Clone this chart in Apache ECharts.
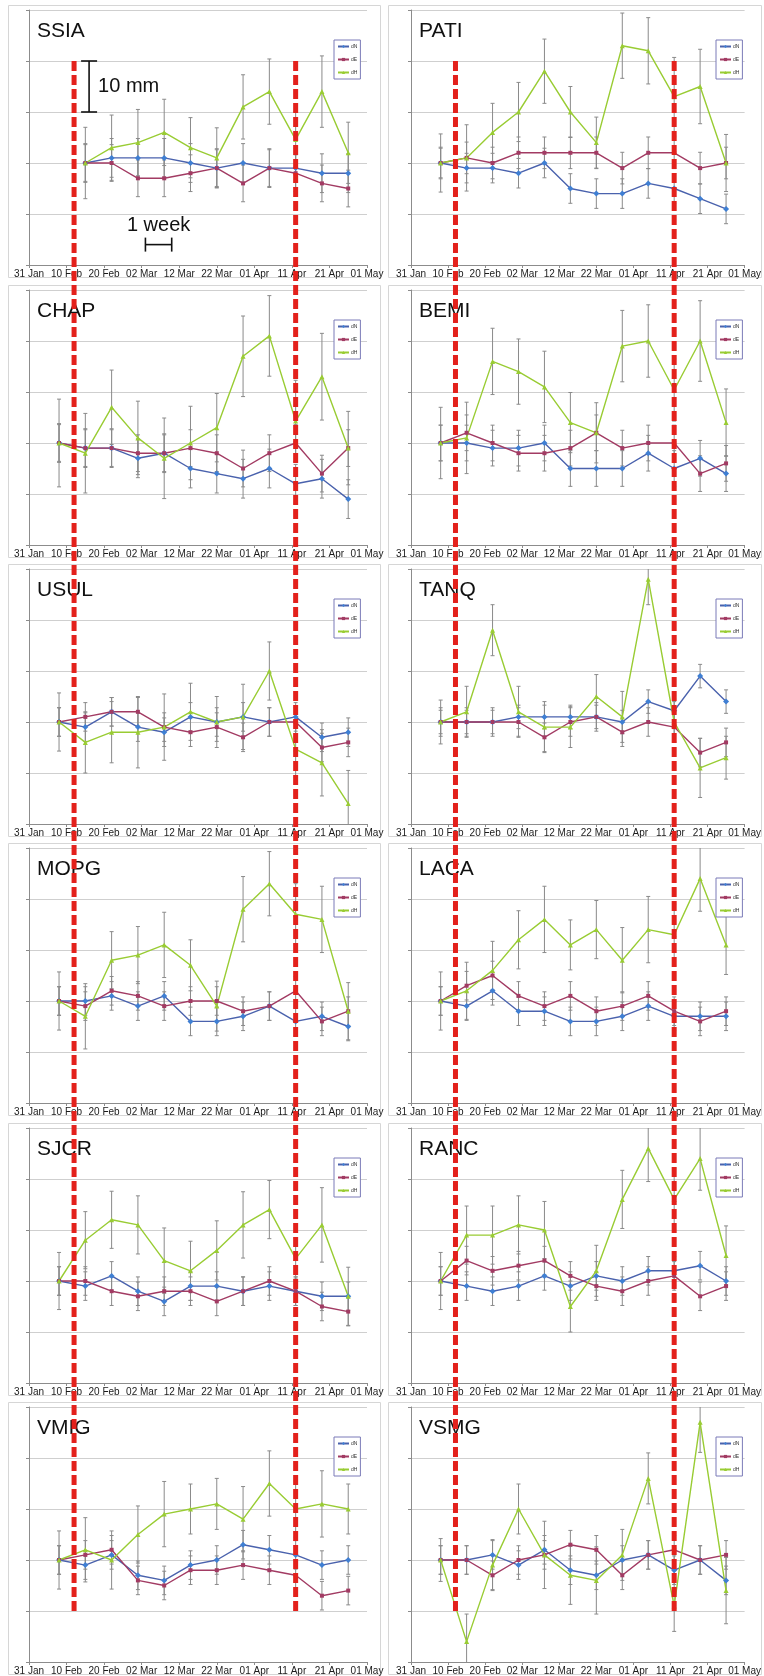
<!DOCTYPE html>
<html>
<head>
<meta charset="utf-8">
<title>GPS displacement time series</title>
<script src="https://cdn.jsdelivr.net/npm/echarts@6/dist/echarts.min.js"></script>
<style>
  html, body { margin: 0; padding: 0; background: #ffffff; }
  #chart { width: 764px; height: 1676px; }
</style>
</head>
<body>
<div id="chart"></div>
<script>
// Stations, in reading order (left column, right column, row by row)
const stations = ['SSIA', 'PATI', 'CHAP', 'BEMI', 'USUL', 'TANQ',
                  'MOPG', 'LACA', 'SJCR', 'RANC', 'VMIG', 'VSMG'];

// Weekly solutions
const obsDates = ['2011-02-08', '2011-02-15', '2011-02-22', '2011-03-01',
                  '2011-03-08', '2011-03-15', '2011-03-22', '2011-03-29',
                  '2011-04-05', '2011-04-12', '2011-04-19', '2011-04-26'];
const axisStart = '2011-01-31';
const tickLabels = ['31 Jan', '10 Feb', '20 Feb', '02 Mar', '12 Mar',
                    '22 Mar', '01 Apr', '11 Apr', '21 Apr', '01 May'];

// Event dates marked with the dashed lines
const eventDates = ['2011-02-12', '2011-04-12'];

// North displacement (mm)
const dN = [
  [null, 0, 1, 1, 1, 0, -1, 0, -1, -1, -2, -2],
  [0, -1, -1, -2, 0, -5, -6, -6, -4, -5, -7, -9],
  [0, -1, -1, -3, -2, -5, -6, -7, -5, -8, -7, -11],
  [0, 0, -1, -1, 0, -5, -5, -5, -2, -5, -3, -6],
  [0, -1, 2, -1, -2, 1, 0, 1, 0, 1, -3, -2],
  [0, 0, 0, 1, 1, 1, 1, 0, 4, 2.2, 9, 4],
  [0, 0, 1, -1, 1, -4, -4, -3, -1, -4, -3, -5],
  [0, -1, 2, -2, -2, -4, -4, -3, -1, -3, -3, -3],
  [0, -1, 1, -2, -4, -1, -1, -2, -1, -2, -3, -3],
  [0, -1, -2, -1, 1, -1, 1, 0, 2, 2, 3, 0],
  [0, -1, 1, -3, -4, -1, 0, 3, 2, 1, -1, 0],
  [0, 0, 1, -1, 2, -2, -3, 0, 1, -2, 0, -4]
];

// East displacement (mm)
const dE = [
  [null, 0, 0, -3, -3, -2, -1, -4, -1, -2, -4, -5],
  [0, 1, 0, 2, 2, 2, 2, -1, 2, 2, -1, 0],
  [0, -1, -1, -2, -2, -1, -2, -5, -2, 0, -6, -1],
  [0, 2, 0, -2, -2, -1, 2, -1, 0, 0, -6, -4],
  [0, 1, 2, 2, -1, -2, -1, -3, 0, 0, -5, -4],
  [0, 0, 0, 0, -3, 0, 1, -2, 0, -1, -6, -4],
  [0, -1, 2, 1, -1, 0, 0, -2, -1, 2, -4, -2],
  [0, 3, 5, 1, -1, 1, -2, -1, 1, -2, -4, -2],
  [0, 0, -2, -3, -2, -2, -4, -2, 0, -2, -5, -6],
  [0, 4, 2, 3, 4, 1, -1, -2, 0, 1, -3, -1],
  [0, 1, 2, -4, -5, -2, -2, -1, -2, -3, -7, -6],
  [0, 0, -3, 0, 1, 3, 2, -3, 1, 2, 0, 1]
];

// Height displacement (mm)
const dH = [
  [null, 0, 3, 4, 6, 3, 1, 11, 14, 4.6, 14, 2],
  [0, 1, 6, 10, 18, 10, 4, 23, 22, 13, 15, 0],
  [0, -2, 7, 1, -3, 0, 3, 17, 21, 4.3, 13, -1],
  [0, 1, 16, 14, 11, 4, 2, 19, 20, 10.4, 20, 4],
  [0, -4, -2, -2, -1, 2, 0, 1, 10, -5.3, -8, -16],
  [0, 2, 18, 2, -1, -1, 5, 1, 28, 0, -9, -7],
  [0, -3, 8, 9, 11, 7, -1, 18, 23, 17, 16, -2],
  [0, 2, 6, 12, 16, 11, 14, 8, 14, 13, 24, 11],
  [0, 8, 12, 11, 4, 2, 6, 11, 14, 4.4, 11, -3],
  [0, 9, 9, 11, 10, -5, 2, 16, 26, 16, 24, 5],
  [0, 2, 0, 5, 9, 10, 11, 8, 15, 10, 11, 10],
  [0, -16, -1, 10, 1, -3, -4, 1, 16, -9, 27, -6]
];

// One-sigma uncertainties (mm): horizontal per station, height per solution
const sigN = [3.8, 2.9, 3.8, 3.5, 2.8, 2.3, 2.8, 2.8, 2.8, 2.8, 2.8, 2.8];
const sigE = [3.6, 3.1, 3.6, 3.5, 2.8, 2.8, 2.8, 2.8, 2.8, 2.8, 2.8, 2.8];
const sigH = [
  [null, 7, 6.4, 6.5, 6.5, 5.9, 5.9, 6.3, 6.4, 5.5, 7, 6],
  [5.7, 6.5, 5.7, 5.8, 6.3, 5, 5, 6.4, 6.5, 7.7, 7.3, 5.6],
  [8.6, 7.8, 7.3, 7.2, 7.9, 7.2, 6.7, 7.9, 7.9, 8, 8.5, 7.2],
  [7, 7, 6.5, 6.4, 7, 5.9, 5.9, 7, 7.1, 6.1, 7.9, 6.6],
  [5.7, 6, 6, 7, 6.5, 5.6, 5, 6.4, 5.7, 5.5, 6.5, 6.5],
  [4.3, 5, 5, 5, 5, 4, 4.3, 5, 5, 4, 5.8, 4.2],
  [5.7, 6.4, 5.6, 5.6, 6.4, 5, 4.9, 6.4, 6.3, 6, 6.5, 5.6],
  [5.7, 5.6, 5.7, 5.7, 6.5, 4.9, 5.7, 6.4, 6.5, 6, 6.4, 5.8],
  [5.6, 5.6, 5.6, 5.7, 6.4, 5.8, 5.8, 6.5, 5.7, 4, 7.3, 5.7],
  [5.6, 5.7, 5.7, 5.7, 5.6, 5, 5, 5.7, 6.5, 6, 6.2, 5.8],
  [5.7, 6.3, 5.7, 5.6, 6.4, 4.9, 5, 6.4, 6.4, 5.5, 6.5, 4.9],
  [4.2, 5.4, 5, 4.9, 6.6, 5.7, 6.6, 5, 5, 5, 5.9, 6.5]
];

// ---------------------------------------------------------------------------
const FONT = 'Liberation Sans, Arial, Helvetica, sans-serif';
const Y_MIN = -20, Y_MAX = 30;
const DAY_MS = 86400000;
const dayOf = d => (Date.parse(d) - Date.parse(axisStart)) / DAY_MS;
const obsDays = obsDates.map(dayOf);

const colLeft = [29, 411];
const gridW = 338;
const rowTop = [10, 290, 569, 848, 1128, 1407];
const gridH = 255;

const comps = [
  { name: 'dN', vals: dN, sig: (s, k) => sigN[s], line: '#4a62ad', mark: '#3f7fd3', symbol: 'diamond', size: 6 },
  { name: 'dE', vals: dE, sig: (s, k) => sigE[s], line: '#a23b63', mark: '#a23b63', symbol: 'rect', size: 4 },
  { name: 'dH', vals: dH, sig: (s, k) => sigH[s][k], line: '#99cc33', mark: '#99cc33', symbol: 'triangle', size: 5 }
];

function errorBar(params, api) {
  const x = api.value(0), y = api.value(1), e = api.value(2);
  const hiV = y + e, loV = y - e;
  const top = api.coord([x, Math.min(hiV, Y_MAX)]);
  const bot = api.coord([x, Math.max(loV, Y_MIN)]);
  const hw = 2;
  const st = { stroke: '#8a8a8a', lineWidth: 1 };
  const children = [{ type: 'line', shape: { x1: top[0], y1: top[1], x2: bot[0], y2: bot[1] }, style: st }];
  if (hiV <= Y_MAX) children.push({ type: 'line', shape: { x1: top[0] - hw, y1: top[1], x2: top[0] + hw, y2: top[1] }, style: st });
  if (loV >= Y_MIN) children.push({ type: 'line', shape: { x1: bot[0] - hw, y1: bot[1], x2: bot[0] + hw, y2: bot[1] }, style: st });
  return { type: 'group', children };
}

const grids = [], xAxes = [], yAxes = [], series = [], titles = [], legends = [];

stations.forEach((st, i) => {
  const col = i % 2, row = Math.floor(i / 2);
  const left = colLeft[col], top = rowTop[row];
  grids.push({ left, top, width: gridW, height: gridH, containLabel: false });
  xAxes.push({
    type: 'value', gridIndex: i, min: 0, max: 90, interval: 10,
    axisLine: { show: true, onZero: false, lineStyle: { color: '#8c8c8c', width: 1 } },
    axisTick: { show: true, length: 3, lineStyle: { color: '#8c8c8c' } },
    axisLabel: { formatter: v => tickLabels[Math.round(v / 10)], fontSize: 10, color: '#1a1a1a', margin: 4, fontFamily: FONT },
    splitLine: { show: false }
  });
  yAxes.push({
    type: 'value', gridIndex: i, min: Y_MIN, max: Y_MAX, interval: 10,
    axisLine: { show: true, lineStyle: { color: '#8c8c8c', width: 1 } },
    axisTick: { show: true, length: 3, lineStyle: { color: '#8c8c8c' } },
    axisLabel: { show: false },
    splitLine: { show: true, lineStyle: { color: '#cfcfcf', width: 1 } }
  });
  titles.push({
    text: st, left: left + 8, top: top + 11, padding: 0,
    textStyle: { fontSize: 21, fontWeight: 'normal', color: '#111', fontFamily: FONT }
  });
  legends.push({
    data: ['dN', 'dE', 'dH'], orient: 'vertical', left: left + 305, top: top + 30,
    selectedMode: false, itemWidth: 11, itemHeight: 4, itemGap: 8,
    padding: [4, 3, 4, 3], borderColor: '#7b7bb8', borderWidth: 1, backgroundColor: '#ffffff',
    textStyle: { fontSize: 5, color: '#333', fontFamily: FONT, padding: [0, 0, 0, -3] }
  });

  comps.forEach(c => {
    const pts = [], bars = [];
    obsDays.forEach((d, k) => {
      const v = c.vals[i][k];
      if (v === null || v === undefined) return;
      pts.push([d, v]);
      bars.push([d, v, c.sig(i, k)]);
    });
    series.push({
      type: 'custom', name: c.name + ' sigma', xAxisIndex: i, yAxisIndex: i,
      renderItem: errorBar, data: bars, encode: { x: 0, y: 1 }, z: 2, silent: true
    });
    series.push({
      type: 'line', name: c.name, xAxisIndex: i, yAxisIndex: i, data: pts,
      symbol: c.symbol, symbolSize: c.size, showSymbol: true,
      lineStyle: { color: c.line, width: 1.4 },
      itemStyle: { color: c.mark, borderWidth: 0 },
      z: 3, animation: false, silent: true
    });
  });
});

const chart = echarts.init(document.getElementById('chart'), null, { renderer: 'canvas' });
chart.setOption({
  animation: false,
  backgroundColor: '#ffffff',
  title: titles,
  legend: legends,
  grid: grids,
  xAxis: xAxes,
  yAxis: yAxes,
  series
});

// Panel frames, event lines and scale bars, placed through the axes' scales
const px = (g, x, y) => chart.convertToPixel({ gridIndex: g }, [x, y]);
const graphics = [];

stations.forEach((st, i) => {
  const col = i % 2, row = Math.floor(i / 2);
  graphics.push({
    type: 'rect', z: 0, silent: true,
    shape: { x: col ? 388.5 : 8.5, y: rowTop[row] - 4.5, width: col ? 373 : 372, height: 272 },
    style: { fill: null, stroke: '#d6d6d6', lineWidth: 1 }
  });
});

// Dashed event lines from the +20 mm level of the top row to the -10 mm level of the bottom row
[0, 1].forEach(col => {
  eventDates.forEach(d => {
    const a = px(col, dayOf(d), 20);
    const b = px(10 + col, dayOf(d), -10);
    graphics.push({
      type: 'line', z: 100, silent: true,
      shape: { x1: a[0], y1: a[1], x2: b[0], y2: b[1] },
      style: { stroke: '#e3211c', lineWidth: 5, lineDash: [10, 4] }
    });
  });
});

// 10 mm vertical scale bar
const scaleDay = 16, scaleFrom = 10, scaleTo = 20;
const sb1 = px(0, scaleDay, scaleTo), sb2 = px(0, scaleDay, scaleFrom);
const ink = { stroke: '#111', lineWidth: 1.6 };
graphics.push(
  { type: 'line', z: 90, shape: { x1: sb1[0], y1: sb1[1], x2: sb2[0], y2: sb2[1] }, style: ink },
  { type: 'line', z: 90, shape: { x1: sb1[0] - 8, y1: sb1[1], x2: sb1[0] + 8, y2: sb1[1] }, style: ink },
  { type: 'line', z: 90, shape: { x1: sb2[0] - 8, y1: sb2[1], x2: sb2[0] + 8, y2: sb2[1] }, style: ink },
  { type: 'text', z: 90, x: sb1[0] + 9, y: (sb1[1] + sb2[1]) / 2,
    style: { text: '10 mm', fontSize: 20, fontFamily: FONT, fill: '#111', verticalAlign: 'middle', align: 'left' } }
);

// 1 week horizontal scale bar
const weekFrom = '2011-03-03', weekTo = '2011-03-10', weekLevel = -16;
const wb1 = px(0, dayOf(weekFrom), weekLevel), wb2 = px(0, dayOf(weekTo), weekLevel);
graphics.push(
  { type: 'line', z: 90, shape: { x1: wb1[0], y1: wb1[1], x2: wb2[0], y2: wb2[1] }, style: ink },
  { type: 'line', z: 90, shape: { x1: wb1[0], y1: wb1[1] - 7, x2: wb1[0], y2: wb1[1] + 7 }, style: ink },
  { type: 'line', z: 90, shape: { x1: wb2[0], y1: wb2[1] - 7, x2: wb2[0], y2: wb2[1] + 7 }, style: ink },
  { type: 'text', z: 90, x: (wb1[0] + wb2[0]) / 2, y: wb1[1] - 19,
    style: { text: '1 week', fontSize: 20, fontFamily: FONT, fill: '#111', verticalAlign: 'middle', align: 'center' } }
);

chart.setOption({ graphic: graphics });
</script>
</body>
</html>
